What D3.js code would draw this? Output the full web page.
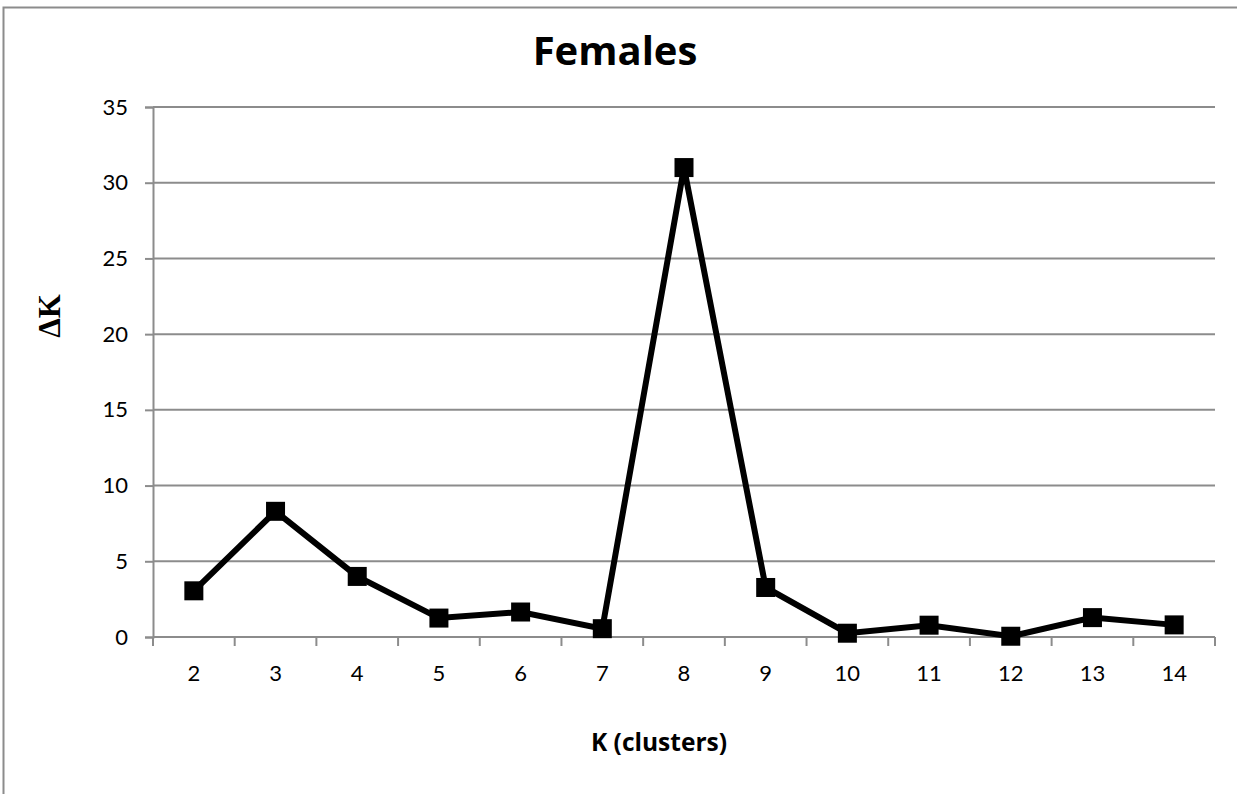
<!DOCTYPE html>
<html>
<head>
<meta charset="utf-8">
<script src="https://cdn.jsdelivr.net/npm/d3@7"></script>
<style>
  html, body { margin: 0; padding: 0; background: #fff; }
  svg { display: block; }
</style>
</head>
<body>
<script>
// ΔK values per number of clusters K (females)
const clusters = [2, 3, 4, 5, 6, 7, 8, 9, 10, 11, 12, 13, 14];
const deltaK = [3.05, 8.3, 4.0, 1.25, 1.65, 0.55, 31.0, 3.27, 0.25, 0.78, 0.05, 1.28, 0.8];
const yTicks = [0, 5, 10, 15, 20, 25, 30, 35];

const W = 1237, H = 794;
const margin = { left: 153, right: 22, top: 107, bottom: 157 };
const plotW = W - margin.left - margin.right;
const plotH = H - margin.top - margin.bottom;

const svg = d3.select("body").append("svg")
  .attr("width", W).attr("height", H);

// chart area border
svg.append("rect")
  .attr("x", 3.5).attr("y", 7.5)
  .attr("width", W + 10).attr("height", H + 10)
  .attr("fill", "none").attr("stroke", "#8c8c8c").attr("stroke-width", 2);

const g = svg.append("g").attr("transform", `translate(${margin.left},${margin.top})`);

const x = d3.scaleBand().domain(clusters).range([0, plotW]);
const y = d3.scaleLinear().domain([0, 35]).range([plotH, 0]);

const tickFont = "Lato, 'Open Sans', sans-serif";

// horizontal gridlines
g.append("g").selectAll("line").data(yTicks.filter(d => d > 0)).join("line")
  .attr("x1", 0).attr("x2", plotW)
  .attr("y1", d => y(d)).attr("y2", d => y(d))
  .attr("stroke", "#8c8c8c").attr("stroke-width", 2);

// y axis
const yAxis = g.append("g")
  .call(d3.axisLeft(y).tickValues(yTicks).tickSize(8).tickPadding(17));
yAxis.select(".domain").attr("stroke", "#8c8c8c").attr("stroke-width", 2);
yAxis.selectAll(".tick line").attr("stroke", "#8c8c8c").attr("stroke-width", 2);
yAxis.selectAll("text")
  .attr("font-family", tickFont)
  .attr("font-size", 22).attr("fill", "#000");

// x axis with ticks at the category boundaries
const xAxisG = g.append("g").attr("transform", `translate(0,${plotH})`);
xAxisG.append("line")
  .attr("x1", 0).attr("x2", plotW).attr("y1", 0).attr("y2", 0)
  .attr("stroke", "#8c8c8c").attr("stroke-width", 2);
const boundaries = clusters.map(c => x(c)).concat([plotW]);
xAxisG.selectAll("line.tick").data(boundaries).join("line")
  .attr("class", "tick")
  .attr("x1", d => d).attr("x2", d => d)
  .attr("y1", 0).attr("y2", 9)
  .attr("stroke", "#8c8c8c").attr("stroke-width", 2);
xAxisG.selectAll("text").data(clusters).join("text")
  .attr("x", d => x(d) + x.bandwidth() / 2)
  .attr("y", 44)
  .attr("text-anchor", "middle")
  .attr("font-family", tickFont)
  .attr("font-size", 22).attr("fill", "#000")
  .text(d => d);

// line + square markers
const pts = clusters.map((c, i) => [x(c) + x.bandwidth() / 2, y(deltaK[i])]);
g.append("path")
  .attr("d", d3.line()(pts))
  .attr("fill", "none").attr("stroke", "#000")
  .attr("stroke-width", 6).attr("stroke-linejoin", "miter");

const ms = 19;
g.selectAll("rect.marker").data(pts).join("rect")
  .attr("class", "marker")
  .attr("x", d => d[0] - ms / 2).attr("y", d => d[1] - ms / 2)
  .attr("width", ms).attr("height", ms)
  .attr("fill", "#000");

// titles
svg.append("text")
  .attr("x", 615).attr("y", 65)
  .attr("text-anchor", "middle")
  .attr("font-family", "'Open Sans', Lato, sans-serif")
  .attr("font-weight", "bold").attr("font-size", 40)
  .text("Females");

svg.append("text")
  .attr("transform", `translate(60,316) rotate(-90)`)
  .attr("text-anchor", "middle")
  .attr("font-family", "'Liberation Serif', 'DejaVu Serif', serif")
  .attr("font-weight", "bold").attr("font-size", 31)
  .text("ΔK");

svg.append("text")
  .attr("x", 659).attr("y", 751)
  .attr("text-anchor", "middle")
  .attr("font-family", "'Open Sans', Lato, sans-serif")
  .attr("font-weight", "bold").attr("font-size", 24.5)
  .text("K (clusters)");
</script>
</body>
</html>
